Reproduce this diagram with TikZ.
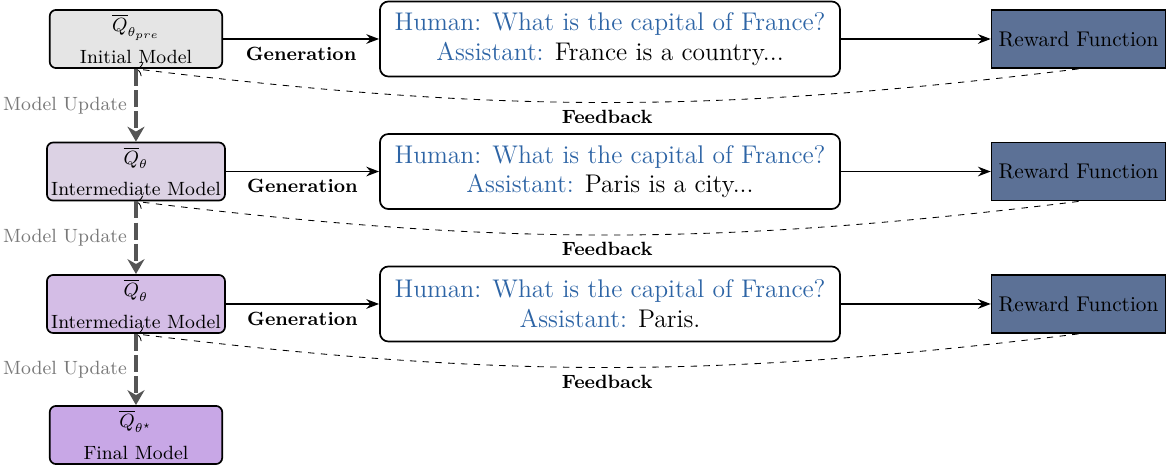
\documentclass[tikz,border=0pt]{standalone}
\usepackage{amssymb}
\usepackage{amsmath}
\usepackage{tikz}
\usetikzlibrary{arrows.meta}

\definecolor{qblue}{RGB}{45,100,165}
\definecolor{rewardblue}{RGB}{92,113,150}
\definecolor{modelA}{RGB}{229,229,229}
\definecolor{modelB}{RGB}{220,210,228}
\definecolor{modelC}{RGB}{212,189,230}
\definecolor{modelD}{RGB}{200,167,230}
\definecolor{updategray}{RGB}{85,85,85}
\definecolor{labelgray}{RGB}{120,120,120}
\newcommand{\etcdots}{...}

\begin{document}
\begin{tikzpicture}[
  model/.style={draw, thick, rounded corners=3pt, align=center, font=\small, minimum width=2.85cm, minimum height=0.96cm, inner sep=2pt},
  chat/.style={draw, thick, rounded corners=4pt, align=center, font=\large, minimum width=7.6cm, minimum height=1.24cm},
  reward/.style={draw, thick, fill=rewardblue, minimum width=2.79cm, minimum height=0.96cm},
  gen/.style={thick, -{Stealth[length=6pt]}},
  feed/.style={dashed, -{To[length=3pt]}},
  update/.style={updategray, line width=2pt, dash pattern=on 8pt off 2pt, -{Stealth[length=7pt,width=8pt]}},
  lbl/.style={font=\small\bfseries}
]
\useasboundingbox (0,0) rectangle (19.276,-7.681);

% one row per training round
\foreach \i/\y/\q/\name/\col/\ans in {1/-0.644/{\theta_{pre}}/Initial Model/modelA/{France is a country\etcdots},
  2/-2.833/\theta/Intermediate Model/modelB/{Paris is a city\etcdots},
  3/-5.021/\theta/Intermediate Model/modelC/{Paris.}} {
\node[model, fill=\col] (m\i) at (2.246,\y) {$\overline{Q}_{\q}$\\[4pt] \name};
\node[chat] (c\i) at (10.076,\y) {\textcolor{qblue}{Human: What is the capital of France?}\\ \textcolor{qblue}{Assistant:} \ans};
\node[reward] (r\i) at (17.815,\y) {Reward Function};
\draw[gen] (m\i) -- node[lbl, below] {Generation} (c\i);
\draw[gen] (c\i) -- (r\i);
\draw[feed] (r\i.south) to[bend left=7] node[lbl, below] {Feedback} (m\i.south);
}

\node[model, fill=modelD] (m4) at (2.246,-7.185) {$\overline{Q}_{\theta^\star}$\\[4pt] Final Model};

\foreach \i/\j in {1/2,2/3,3/4} {
\draw[update] (m\i.south) -- node[left, text=labelgray, font=\small] {Model Update} (m\j.north);
}
\end{tikzpicture}
\end{document}
